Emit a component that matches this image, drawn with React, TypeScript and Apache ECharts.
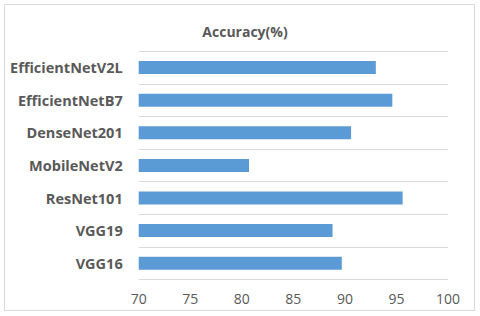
import React, { useEffect, useRef } from "react";
import * as echarts from "echarts";

const categories = ["EfficientNetV2L", "EfficientNetB7", "DenseNet201", "MobileNetV2", "ResNet101", "VGG19", "VGG16"];
const accuracy = [93.0, 94.6, 90.6, 80.7, 95.6, 88.8, 89.7];
const titleText = "Accuracy(%)";

export default function App() {
  const ref = useRef<HTMLDivElement>(null);
  useEffect(() => {
    if (!ref.current) return;
    const chart = echarts.init(ref.current, null, { renderer: "svg" });
    const font = "'Open Sans', sans-serif";
    chart.setOption({
      animation: false,
      backgroundColor: "#ffffff",
      title: {
        text: titleText,
        left: 240,
        top: 19,
        textAlign: "center",
        textStyle: { fontFamily: font, fontSize: 14, fontWeight: "bold", color: "#595959" },
      },
      graphic: [
        {
          type: "rect",
          shape: { x: 4.5, y: 4.5, width: 470, height: 306 },
          style: { fill: "none", stroke: "#d9d9d9", lineWidth: 1 },
          silent: true,
        },
      ],
      grid: { left: 138.7, right: 32, top: 51.3, bottom: 36.5, containLabel: false },
      xAxis: {
        type: "value",
        min: 70,
        max: 100,
        interval: 5,
        axisLine: { show: false },
        axisTick: { show: false },
        splitLine: { show: false },
        axisLabel: { color: "#595959", fontSize: 14, fontFamily: font, margin: 12 },
      },
      yAxis: {
        type: "category",
        data: categories,
        inverse: true,
        axisLine: { show: false },
        axisTick: { show: false },
        splitLine: { show: true, lineStyle: { color: "#d9d9d9", width: 1.2 } },
        axisLabel: { color: "#595959", fontSize: 14.5, fontWeight: "bold", fontFamily: font, margin: 16 },
      },
      series: [
        {
          type: "bar",
          data: accuracy,
          barWidth: "40%",
          itemStyle: { color: "#5b9bd5" },
        },
      ],
    });
    return () => chart.dispose();
  }, []);
  return (
    <div
      ref={ref}
      style={{ position: "fixed", left: 0, top: 0, width: 480, height: 316, background: "#fff" }}
    />
  );
}
